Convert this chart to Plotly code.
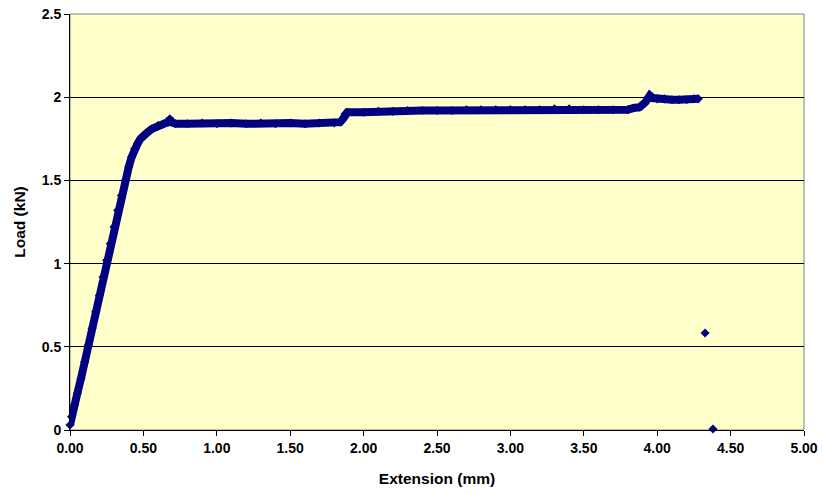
import plotly.graph_objects as go

# Extension (mm) and Load (kN)
extension = [0.00, 0.01, 0.03, 0.05, 0.075, 0.10, 0.125, 0.15, 0.175, 0.20, 0.225, 0.25,
             0.275, 0.30, 0.325, 0.35, 0.375, 0.40, 0.42, 0.44, 0.46, 0.48, 0.50, 0.53,
             0.56, 0.60, 0.64, 0.67, 0.68, 0.69, 0.72, 0.80, 0.90, 1.00, 1.10, 1.20,
             1.30, 1.40, 1.50, 1.60, 1.70, 1.80, 1.84, 1.86, 1.875, 1.89, 2.00, 2.10,
             2.20, 2.30, 2.40, 2.50, 2.60, 2.70, 2.80, 2.90, 3.00, 3.10, 3.20, 3.30,
             3.40, 3.50, 3.60, 3.70, 3.80, 3.84, 3.88, 3.92, 3.94, 3.95, 3.97, 4.00,
             4.05, 4.10, 4.15, 4.20, 4.25, 4.28,
             None, 4.326, None, 4.38]
load = [0.03, 0.08, 0.15, 0.22, 0.31, 0.41, 0.51, 0.61, 0.71, 0.81, 0.92, 1.02,
        1.12, 1.22, 1.32, 1.41, 1.50, 1.58, 1.64, 1.69, 1.72, 1.75, 1.77, 1.79,
        1.81, 1.83, 1.84, 1.85, 1.87, 1.85, 1.84, 1.84, 1.845, 1.84, 1.845, 1.84,
        1.845, 1.84, 1.845, 1.84, 1.845, 1.845, 1.85, 1.87, 1.90, 1.91, 1.91, 1.915,
        1.915, 1.92, 1.92, 1.92, 1.92, 1.925, 1.925, 1.925, 1.925, 1.925, 1.925, 1.93,
        1.93, 1.925, 1.925, 1.925, 1.925, 1.935, 1.94, 1.97, 2.00, 2.01, 1.995, 1.99,
        1.99, 1.985, 1.985, 1.985, 1.99, 1.99,
        None, 0.583, None, 0.006]

x_ticks = [0, 0.5, 1, 1.5, 2, 2.5, 3, 3.5, 4, 4.5, 5]
x_tick_text = ["0.00", "0.50", "1.00", "1.50", "2.00", "2.50", "3.00", "3.50", "4.00", "4.50", "5.00"]
y_ticks = [0, 0.5, 1, 1.5, 2, 2.5]
y_tick_text = ["0", "0.5", "1", "1.5", "2", "2.5"]

navy = "#000080"
font = "Liberation Sans, Arial, sans-serif"

fig = go.Figure()
fig.add_trace(go.Scatter(
    x=extension, y=load, mode="lines+markers",
    line=dict(color=navy, width=8),
    marker=dict(symbol="diamond", size=7, color=navy),
    connectgaps=False, showlegend=False, cliponaxis=False,
))

fig.update_layout(
    width=823, height=494,
    margin=dict(l=70, r=19, t=14, b=64),
    paper_bgcolor="white",
    plot_bgcolor="#FFFFCC",
    font=dict(family=font, color="black"),
    shapes=[dict(type="rect", xref="paper", yref="paper", x0=0, y0=0, x1=1, y1=1,
                 line=dict(color="#808080", width=1), layer="below")],
)
fig.update_xaxes(
    range=[0, 5], tickvals=x_ticks, ticktext=["<b>%s</b>" % t for t in x_tick_text],
    showgrid=False, zeroline=False, automargin=False,
    showline=True, linecolor="black", linewidth=1,
    ticks="outside", ticklen=5, tickcolor="black",
    tickfont=dict(family=font, size=14, color="black"),
    title=dict(text="<b>Extension (mm)</b>", font=dict(family=font, size=15.5, color="black"), standoff=18),
)
fig.update_yaxes(
    range=[0, 2.5], tickvals=y_ticks, ticktext=["<b>%s</b>" % t for t in y_tick_text],
    showgrid=True, gridcolor="black", gridwidth=1, zeroline=False, automargin=False,
    showline=True, linecolor="black", linewidth=1,
    ticks="outside", ticklen=5, tickcolor="black",
    tickfont=dict(family=font, size=14, color="black"),
    title=dict(text="<b>Load (kN)</b>", font=dict(family=font, size=15.5, color="black"), standoff=12),
)

fig.write_html("out.html")
